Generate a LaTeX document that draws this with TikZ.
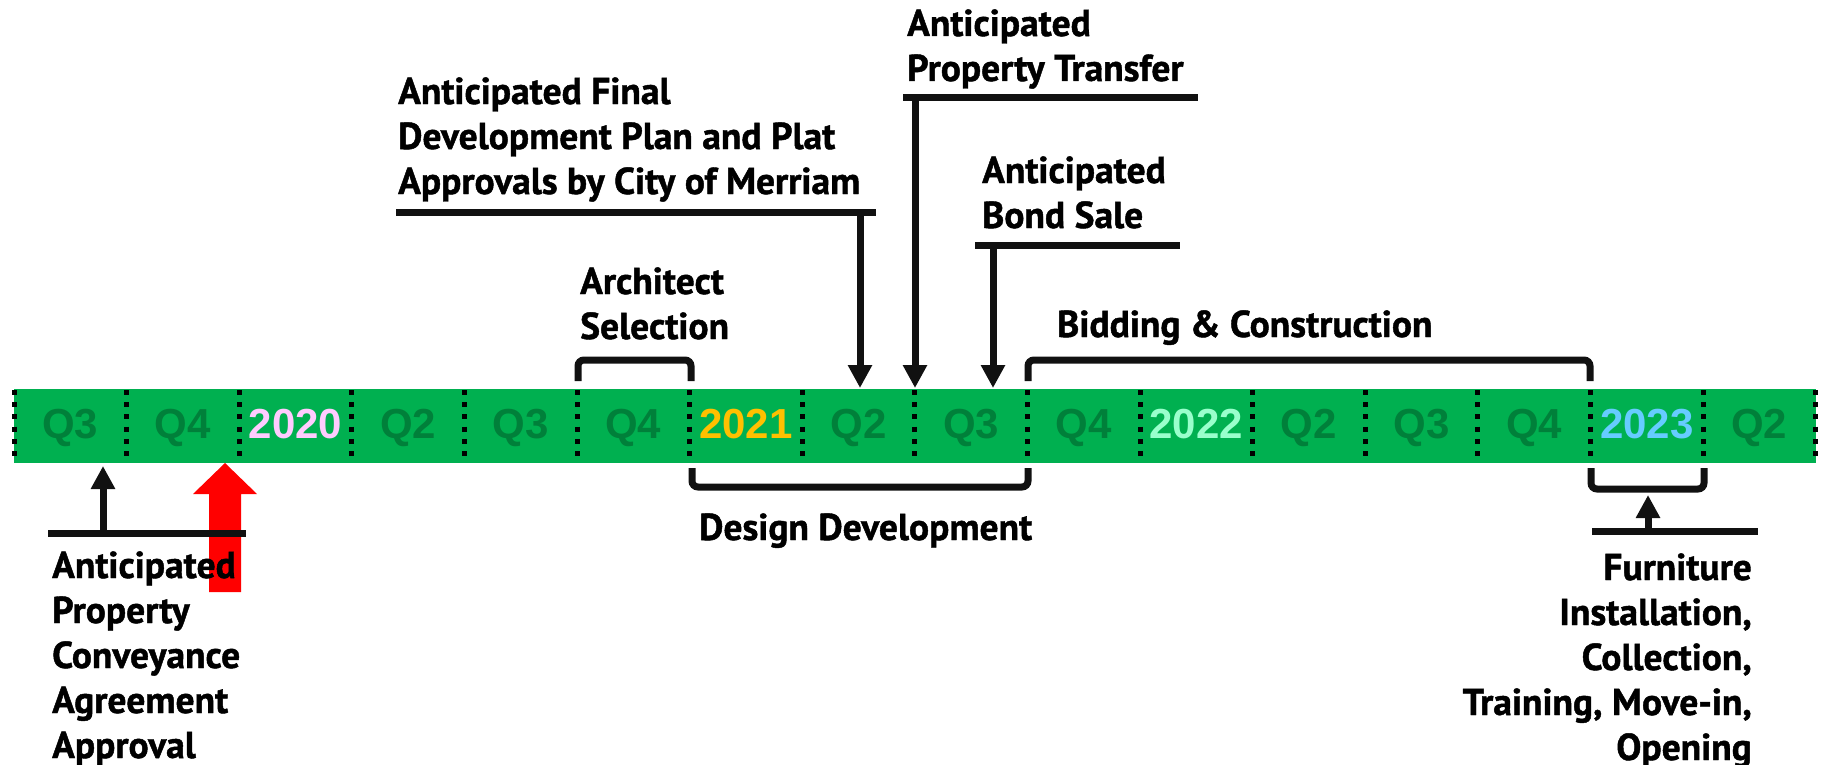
\documentclass[tikz,border=0pt]{standalone}
\usepackage{fontspec}
\usetikzlibrary{arrows.meta}
\newfontfamily\annfont{PT Sans}[BoldFeatures={FakeBold=1.2}]
\newfontfamily\qfont{Liberation Sans}
\definecolor{bargreen}{HTML}{00B050}
\definecolor{qgreen}{RGB}{0,128,58}
\definecolor{yrpink}{HTML}{FFCCFF}
\definecolor{yrgold}{HTML}{FFC000}
\definecolor{yrmint}{HTML}{99FFCC}
\definecolor{yrblue}{HTML}{66CCFF}
\definecolor{arrred}{HTML}{FF0000}
\definecolor{ink}{HTML}{111111}
\begin{document}
\begin{tikzpicture}[x=1pt,y=-1pt,
  ann/.style={font=\annfont\bfseries\fontsize{37.5}{45}\selectfont, inner sep=0pt, anchor=base west, align=left, text=black},
  annr/.style={font=\annfont\bfseries\fontsize{37.5}{45}\selectfont, inner sep=0pt, anchor=base east, align=right, text=black},
  qlab/.style={font=\qfont\bfseries\fontsize{42}{50}\selectfont, inner sep=0pt, anchor=base, text=qgreen},
  hline/.style={draw=ink, line width=7pt},
  arr/.style={draw=ink, line width=7pt, -{Triangle[width=23pt,length=23pt]}},
  brk/.style={draw=ink, line width=7pt, rounded corners=6pt},
  sepline/.style={draw=black, line width=5pt, dash pattern=on 5pt off 7.2pt}
]
\useasboundingbox (0,0) rectangle (1827,765);

% timeline bar
\fill[bargreen] (14,389) rectangle (1816,463);

% cell labels
\foreach \k/\t/\c in {0/Q3/qgreen,1/Q4/qgreen,2/2020/yrpink,3/Q2/qgreen,4/Q3/qgreen,5/Q4/qgreen,6/2021/yrgold,7/Q2/qgreen,8/Q3/qgreen,9/Q4/qgreen,10/2022/yrmint,11/Q2/qgreen,12/Q3/qgreen,13/Q4/qgreen,14/2023/yrblue,15/Q2/qgreen}{
  \node[qlab, text=\c] (cell\k) at ({14+112.6*(\k+0.5)},438) {\t};
}

% dotted separators
\foreach \k in {0,...,16}{
  \draw[sepline] ({14+112.6*\k},390) -- ({14+112.6*\k},457);
}

% red arrow (drawn first, under text)
\fill[arrred] (209,592) -- (209,494) -- (193,494) -- (225,463) -- (257,494) -- (241,494) -- (241,592) -- cycle;

% --- Anticipated Final Development Plan ---
\node[ann] (finaltxt) at (398,194) {Anticipated Final\\Development Plan and Plat\\Approvals by City of Merriam};
\coordinate (finalL) at (396,212);
\coordinate (finalR) at (876,212);
\coordinate (finalS) at (860,212);
\coordinate (finalT) at (860,388);
\draw[hline] (finalL) -- (finalR);
\draw[arr] (finalS) -- (finalT);

% --- Anticipated Property Transfer ---
\node[ann] (transfertxt) at (907,81) {Anticipated\\Property Transfer};
\coordinate (transL) at (903,98);
\coordinate (transR) at (1198,98);
\coordinate (transS) at (915,98);
\coordinate (transT) at (915,388);
\draw[hline] (transL) -- (transR);
\draw[arr] (transS) -- (transT);

% --- Anticipated Bond Sale ---
\node[ann] (bondtxt) at (982,228) {Anticipated\\Bond Sale};
\coordinate (bondL) at (975,245);
\coordinate (bondR) at (1180,245);
\coordinate (bondS) at (993,245);
\coordinate (bondT) at (993,388);
\draw[hline] (bondL) -- (bondR);
\draw[arr] (bondS) -- (bondT);

% --- Architect Selection ---
\node[ann] (archtxt) at (580,339) {Architect\\Selection};
\draw[brk] (578,381) -- (578,360) -- (691,360) -- (691,381);

% --- Bidding & Construction ---
\node[ann] (bidtxt) at (1057,337) {Bidding \& Construction};
\draw[brk] (1028,381) -- (1028,360) -- (1590,360) -- (1590,381);

% --- Design Development ---
\draw[brk] (692,468) -- (692,487) -- (1028,487) -- (1028,468);
\node[ann] (designtxt) at (699,540) {Design Development};

% --- Conveyance agreement ---
\coordinate (convL) at (48,533);
\coordinate (convR) at (246,533);
\coordinate (convS) at (103,533);
\coordinate (convT) at (103,466);
\draw[arr] (convS) -- (convT);
\draw[hline] (convL) -- (convR);
\node[ann] (convtxt) at (52,758) {Anticipated\\Property\\Conveyance\\Agreement\\Approval};

% --- Furniture ---
\draw[brk] (1591,468) -- (1591,489) -- (1704,489) -- (1704,468);
\coordinate (furnL) at (1592,531);
\coordinate (furnR) at (1758,531);
\coordinate (furnS) at (1648,531);
\coordinate (furnT) at (1648,495);
\draw[arr] (furnS) -- (furnT);
\draw[hline] (furnL) -- (furnR);
\node[annr] (furntxt) at (1752,760) {Furniture\\Installation,\\Collection,\\Training, Move-in,\\Opening};
\end{tikzpicture}
\end{document}
